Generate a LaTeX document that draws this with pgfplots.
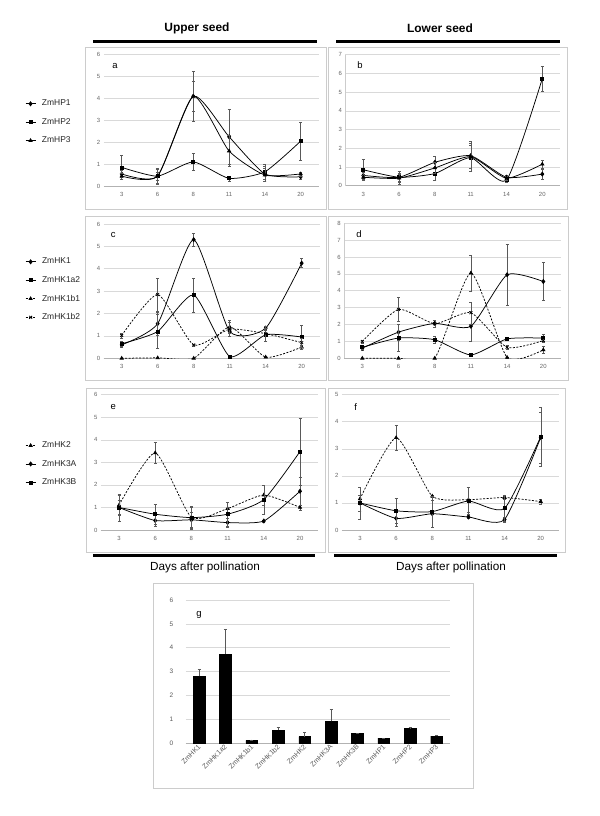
\documentclass[border=0pt]{standalone}
\usepackage{fontspec}
\setmainfont{Liberation Sans}
\usepackage{pgfplots}
\pgfplotsset{compat=1.18}
\tikzset{plab/.style={font=\fontsize{9.5}{11}\selectfont}}
\pgfplotsset{
  panel/.style={scale only axis, anchor=south west,
    xmin=-0.5, xmax=5.5, ymin=0,
    xtick={0,...,5}, xticklabels={3,6,8,11,14,20},
    ytick distance=1, ymajorgrids,
    major grid style={draw=black!15, line width=0.6bp},
    axis x line*=bottom, axis y line*=left,
    x axis line style={draw=black!30, line width=0.6bp},
    y axis line style={draw=none},
    major tick length=0pt,
    tick label style={font=\fontsize{6}{7}\selectfont, text=black!60},
    xticklabel style={yshift=-3bp},
    /pgf/number format/assume math mode=true,
    clip mode=individual,
    every axis plot/.append style={black, line width=0.75bp, smooth, tension=0.35, mark options={solid, fill=black}},
    error bars/error bar style={solid, line width=0.4bp, black!65},
    error bars/error mark options={solid, rotate=90, mark size=1.5bp, line width=0.4bp, black!65},
  },
  leg/.style={legend style={at={#1}, anchor=west, draw=none, fill=none,
      font=\fontsize{8.5}{10}\selectfont, text=black!85, row sep=9bp,
      inner sep=0pt, nodes={inner sep=1bp}},
    legend cell align=left,
    legend image code/.code={\draw[##1, mark repeat=2, mark phase=2] plot coordinates {(0bp,0bp) (5bp,0bp) (10bp,0bp)}; \path (15bp,0bp);}},
  eb/.style={error bars/.cd, y dir=both, y explicit},
  sd/.style={mark=diamond*, mark size=2bp},
  ss/.style={mark=square*, mark size=1.5bp},
  st/.style={mark=triangle*, mark size=1.8bp},
  sx/.style={mark=x, mark size=2bp},
  dsh/.style={dash pattern=on 2bp off 1.5bp},
}
\begin{document}
\begin{tikzpicture}
\fill[white] (0bp,0bp) rectangle (600bp,816bp);
% chart-area frames
\begin{scope}[draw=black!20, line width=0.8bp]
\draw (85bp,607bp) rectangle (326bp,769bp);
\draw (328bp,607bp) rectangle (567bp,769bp);
\draw (85bp,436bp) rectangle (326bp,600bp);
\draw (328bp,436bp) rectangle (568bp,600bp);
\draw (86bp,264bp) rectangle (325bp,428bp);
\draw (328bp,264bp) rectangle (565bp,428bp);
\draw (153bp,28bp) rectangle (473bp,233bp);
\end{scope}
% headers
\node[font=\bfseries\fontsize{12}{14}\selectfont] at (197bp,788bp) {Upper seed};
\node[font=\bfseries\fontsize{12}{14}\selectfont] at (440bp,788bp) {Lower seed};
\draw[line width=3bp] (93bp,774.5bp) -- (317bp,774.5bp);
\draw[line width=3bp] (336bp,774.5bp) -- (560bp,774.5bp);
\draw[line width=3bp] (93bp,260bp) -- (315bp,260bp);
\draw[line width=3bp] (334bp,260bp) -- (557bp,260bp);
\node[font=\fontsize{11.8}{14}\selectfont] at (205bp,249bp) {Days after pollination};
\node[font=\fontsize{11.8}{14}\selectfont] at (451bp,249bp) {Days after pollination};

% ---------- panel a ----------
\begin{axis}[panel, at={(103.8bp,630bp)}, width=214.8bp, height=131.3bp, ymax=6,
  leg={(-0.367,0.486)}]
\addplot[sd, eb] coordinates {(0,0.55)+-(0,0.15) (1,0.45)+-(0,0.35) (2,4.1)+-(0,1.15) (3,2.25)+-(0,1.25) (4,0.55)+-(0,0.35) (5,0.42)+-(0,0.1)};
\addplot[ss, eb] coordinates {(0,0.85)+-(0,0.55) (1,0.45)+-(0,0.3) (2,1.1)+-(0,0.4) (3,0.35)+-(0,0.12) (4,0.65)+-(0,0.35) (5,2.05)+-(0,0.87)};
\addplot[st, eb] coordinates {(0,0.45)+-(0,0.15) (1,0.45)+-(0,0.2) (2,4.1)+-(0,0.7) (3,1.6)+-(0,0.7) (4,0.5)+-(0,0.3) (5,0.55)+-(0,0.1)};
\legend{ZmHP1,ZmHP2,ZmHP3}
\node[plab] at (rel axis cs:0.052,0.916) {a};
\end{axis}

% ---------- panel b ----------
\begin{axis}[panel, at={(345.4bp,630.3bp)}, width=214.8bp, height=131bp, ymax=7,
  y axis line style={draw=black!20, line width=0.6bp}]
\addplot[sd, eb] coordinates {(0,0.55)+-(0,0.15) (1,0.45)+-(0,0.2) (2,1.25)+-(0,0.3) (3,1.6)+-(0,0.8) (4,0.45)+-(0,0.1) (5,0.62)+-(0,0.28)};
\addplot[ss, eb] coordinates {(0,0.85)+-(0,0.55) (1,0.45)+-(0,0.35) (2,0.65)+-(0,0.35) (3,1.5)+-(0,0.75) (4,0.3)+-(0,0.1) (5,5.72)+-(0,0.65)};
\addplot[st, eb] coordinates {(0,0.45)+-(0,0.1) (1,0.4)+-(0,0.2) (2,0.95)+-(0,0.3) (3,1.55)+-(0,0.6) (4,0.4)+-(0,0.1) (5,1.15)+-(0,0.2)};
\node[plab] at (rel axis cs:0.068,0.92) {b};
\end{axis}

% ---------- panel c ----------
\begin{axis}[panel, at={(103.7bp,457.7bp)}, width=216bp, height=134.3bp, ymax=6,
  leg={(-0.364,0.511)}]
\addplot[sd, eb] coordinates {(0,0.6)+-(0,0.1) (1,1.55)+-(0,0.5) (2,5.3)+-(0,0.3) (3,1.2)+-(0,0.2) (4,1.35)+-(0,0.1) (5,4.25)+-(0,0.2)};
\addplot[ss, eb] coordinates {(0,0.65)+-(0,0.1) (1,1.2)+-(0,0.75) (2,2.83)+-(0,0.77) (3,0.08)+-(0,0.05) (4,1.05)+-(0,0.3) (5,0.95)+-(0,0.55)};
\addplot[st, dsh, eb] coordinates {(0,0)+-(0,0) (1,0.02)+-(0,0) (2,0)+-(0,0) (3,1.4)+-(0,0.3) (4,0.05)+-(0,0.02) (5,0.5)+-(0,0.1)};
\addplot[sx, dsh, eb] coordinates {(0,1.02)+-(0,0.1) (1,2.85)+-(0,0.75) (2,0.6)+-(0,0.05) (3,1.3)+-(0,0.3) (4,1.1)+-(0,0.35) (5,0.7)+-(0,0.2)};
\legend{ZmHK1,ZmHK1a2,ZmHK1b1,ZmHK1b2}
\node[plab] at (rel axis cs:0.044,0.918) {c};
\end{axis}

% ---------- panel d ----------
\begin{axis}[panel, at={(344.2bp,457.7bp)}, width=217.2bp, height=135bp, ymax=8,
  y axis line style={draw=black!20, line width=0.6bp}]
\addplot[sd, eb] coordinates {(0,0.6)+-(0,0.1) (1,1.55)+-(0,0.5) (2,2.07)+-(0,0.2) (3,1.9)+-(0,0.9) (4,4.95)+-(0,1.8) (5,4.55)+-(0,1.12)};
\addplot[ss, eb] coordinates {(0,0.65)+-(0,0.1) (1,1.2)+-(0,0.8) (2,1.1)+-(0,0.2) (3,0.2)+-(0,0.05) (4,1.15)+-(0,0.1) (5,1.2)+-(0,0.2)};
\addplot[st, dsh, eb] coordinates {(0,0)+-(0,0) (1,0)+-(0,0) (2,0)+-(0,0) (3,5.05)+-(0,1.05) (4,0.05)+-(0,0.02) (5,0.5)+-(0,0.2)};
\addplot[sx, dsh, eb] coordinates {(0,1.0)+-(0,0.1) (1,2.9)+-(0,0.7) (2,2.05)+-(0,0.2) (3,2.7)+-(0,0.65) (4,0.65)+-(0,0.1) (5,1.05)+-(0,0.1)};
\node[plab] at (rel axis cs:0.068,0.918) {d};
\end{axis}

% ---------- panel e ----------
\begin{axis}[panel, at={(100.9bp,286bp)}, width=217.2bp, height=135.3bp, ymax=6,
  leg={(-0.349,0.488)}]
\addplot[st, dsh, eb] coordinates {(0,1.1)+-(0,0.45) (1,3.42)+-(0,0.46) (2,0.56)+-(0,0.45) (3,0.95)+-(0,0.3) (4,1.55)+-(0,0.45) (5,1.0)+-(0,0.1)};
\addplot[sd, eb] coordinates {(0,1.0)+-(0,0.6) (1,0.42)+-(0,0.25) (2,0.45)+-(0,0.35) (3,0.33)+-(0,0.2) (4,0.4)+-(0,0.05) (5,1.72)+-(0,0.6)};
\addplot[ss, eb] coordinates {(0,1.0)+-(0,0.3) (1,0.7)+-(0,0.45) (2,0.55)+-(0,0.5) (3,0.7)+-(0,0.55) (4,1.35)+-(0,0.65) (5,3.48)+-(0,1.48)};
\legend{ZmHK2,ZmHK3A,ZmHK3B}
\node[plab] at (rel axis cs:0.057,0.907) {e};
\end{axis}

% ---------- panel f ----------
\begin{axis}[panel, at={(341.9bp,286bp)}, width=216.9bp, height=135.3bp, ymax=5]
\addplot[st, dsh, eb] coordinates {(0,1.15)+-(0,0.45) (1,3.41)+-(0,0.47) (2,1.25)+-(0,0.05) (3,1.12)+-(0,0.45) (4,1.2)+-(0,0.05) (5,1.05)+-(0,0.1)};
\addplot[sd, eb] coordinates {(0,1.0)+-(0,0.6) (1,0.43)+-(0,0.3) (2,0.6)+-(0,0.5) (3,0.48)+-(0,0.05) (4,0.39)+-(0,0.08) (5,3.42)+-(0,0.95)};
\addplot[ss, eb] coordinates {(0,1.0)+-(0,0.3) (1,0.71)+-(0,0.45) (2,0.68)+-(0,0.58) (3,1.07)+-(0,0.5) (4,0.8)+-(0,0.5) (5,3.45)+-(0,1.1)};
\node[plab] at (rel axis cs:0.064,0.911) {f};
\end{axis}

% ---------- panel g ----------
\begin{axis}[scale only axis, anchor=south west, at={(185.8bp,72.7bp)}, width=264bp, height=143.3bp,
    xmin=-0.5, xmax=9.5, ymin=0, ymax=6,
    xtick={0,...,9},
    xticklabels={ZmHK1,ZmHK1a2,ZmHK1b1,ZmHK1b2,ZmHK2,ZmHK3A,ZmHK3B,ZmHP1,ZmHP2,ZmHP3},
    ytick distance=1, ymajorgrids,
    major grid style={draw=black!15, line width=0.6bp},
    axis x line*=bottom, axis y line*=left,
    x axis line style={draw=black!30, line width=0.6bp},
    y axis line style={draw=none},
    major tick length=0pt,
    tick label style={font=\fontsize{7}{8}\selectfont, text=black!65},
    yticklabel style={font=\fontsize{6.5}{7}\selectfont, xshift=-9bp},
    xticklabel style={rotate=45, anchor=east, xshift=2bp, yshift=-2bp},
    /pgf/number format/assume math mode=true,
    clip mode=individual]
\addplot[ybar, bar width=11.7bp, fill=black, draw=black,
  error bars/.cd, y dir=plus, y explicit,
  error bar style={line width=0.4bp, black!65},
  error mark options={rotate=90, mark size=1.5bp, line width=0.4bp, black!65}]
  coordinates {(0,2.8)+-(0,0.3) (1,3.73)+-(0,1.05) (2,0.12)+-(0,0.03) (3,0.55)+-(0,0.12) (4,0.28)+-(0,0.19) (5,0.92)+-(0,0.5) (6,0.42)+-(0,0.01) (7,0.22)+-(0,0.01) (8,0.62)+-(0,0.04) (9,0.3)+-(0,0.04)};
\node[plab] at (rel axis cs:0.05,0.895) {g};
\end{axis}
\end{tikzpicture}
\end{document}
